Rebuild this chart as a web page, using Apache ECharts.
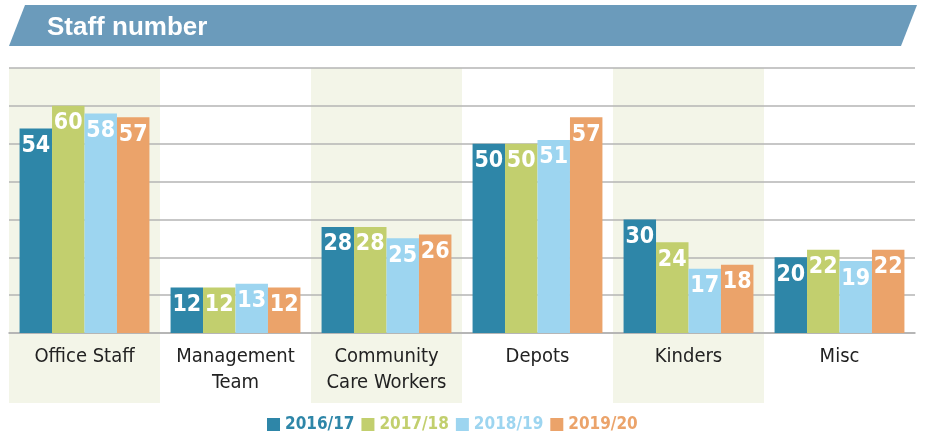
<!DOCTYPE html>
<html>
<head>
<meta charset="utf-8">
<script src="https://cdn.jsdelivr.net/npm/echarts@6/dist/echarts.min.js"></script>
<style>
  html, body { margin: 0; padding: 0; background: #fff; }
  #chart { width: 925px; height: 434px; }
</style>
</head>
<body>
<div id="chart"></div>
<script>
// datos del grafico
const categorias = ['Office Staff', 'Management\nTeam', 'Community\nCare Workers', 'Depots', 'Kinders', 'Misc'];
const periodos = ['2016/17', '2017/18', '2018/19', '2019/20'];
const colores = ['#2e86a8', '#c2cf6e', '#9dd5f0', '#eba36a'];

const valores1617 = [54, 12, 28, 50, 30, 20];
const valores1718 = [60, 12, 28, 50, 24, 22];
const valores1819 = [58, 13, 25, 51, 17, 19];
const valores1920 = [57, 12, 26, 57, 18, 22];
const valores = [valores1617, valores1718, valores1819, valores1920];

const fuenteAngosta = '"Liberation Sans Narrow", "Arial Narrow", "DejaVu Sans Condensed", sans-serif';
const banda = '#f3f5e8';

const chart = echarts.init(document.getElementById('chart'), null, { renderer: 'canvas' });

const option = {
  animation: false,
  backgroundColor: '#fff',
  title: {
    text: 'Staff number',
    left: 42,
    top: 10,
    z: 10,
    textStyle: {
      color: '#fff',
      fontSize: 26,
      fontWeight: 'bold',
      fontFamily: '"Liberation Sans", Arial, sans-serif'
    }
  },
  // banda del titulo
  graphic: [
    {
      type: 'polygon',
      z: 0,
      shape: { points: [[9, 46], [25, 5], [917, 5], [901, 46]] },
      style: { fill: '#6b9bbb' }
    }
  ],
  legend: {
    left: 262,
    top: 411,
    icon: 'rect',
    itemWidth: 13,
    itemHeight: 13,
    itemGap: 7,
    data: periodos.map((p, i) => ({
      name: p,
      textStyle: { color: colores[i] }
    })),
    textStyle: {
      fontSize: 17,
      fontWeight: 'bold',
      fontFamily: fuenteAngosta
    }
  },
  grid: [
    { left: 9, right: 10, top: 68, height: 265 },
    { left: 9, right: 10, top: 333, height: 70 }
  ],
  xAxis: [
    {
      type: 'category',
      gridIndex: 0,
      data: categorias,
      z: 0,
      axisLine: { lineStyle: { color: '#a8a8a8', width: 1.5 } },
      axisTick: { show: false },
      axisLabel: {
        color: '#222',
        fontSize: 20,
        lineHeight: 26,
        margin: 11,
        interval: 0,
        fontFamily: fuenteAngosta
      },
      splitArea: { show: true, areaStyle: { color: [banda, 'rgba(255,255,255,0)'] } }
    },
    {
      type: 'category',
      gridIndex: 1,
      data: categorias,
      z: -1,
      axisLine: { show: false },
      axisTick: { show: false },
      axisLabel: { show: false },
      splitArea: { show: true, areaStyle: { color: [banda, 'rgba(255,255,255,0)'] } }
    }
  ],
  yAxis: [
    {
      type: 'value',
      gridIndex: 0,
      min: 0,
      max: 70,
      interval: 10,
      z: 1,
      axisLine: { show: false },
      axisTick: { show: false },
      axisLabel: { show: false },
      splitLine: { lineStyle: { color: '#b4b4b4', width: 1.5 } }
    },
    {
      type: 'value',
      gridIndex: 1,
      show: false,
      splitLine: { show: false }
    }
  ],
  series: periodos.map((p, i) => ({
    name: p,
    type: 'bar',
    xAxisIndex: 0,
    yAxisIndex: 0,
    data: valores[i],
    barGap: '0%',
    barCategoryGap: '14%',
    itemStyle: { color: colores[i] },
    label: {
      show: true,
      position: 'insideTop',
      distance: 6,
      color: '#fff',
      fontSize: 23,
      fontWeight: 'bold',
      fontFamily: fuenteAngosta
    }
  }))
};

chart.setOption(option);

window.addEventListener('resize', function() {
  chart.resize();
});
</script>
</body>
</html>
